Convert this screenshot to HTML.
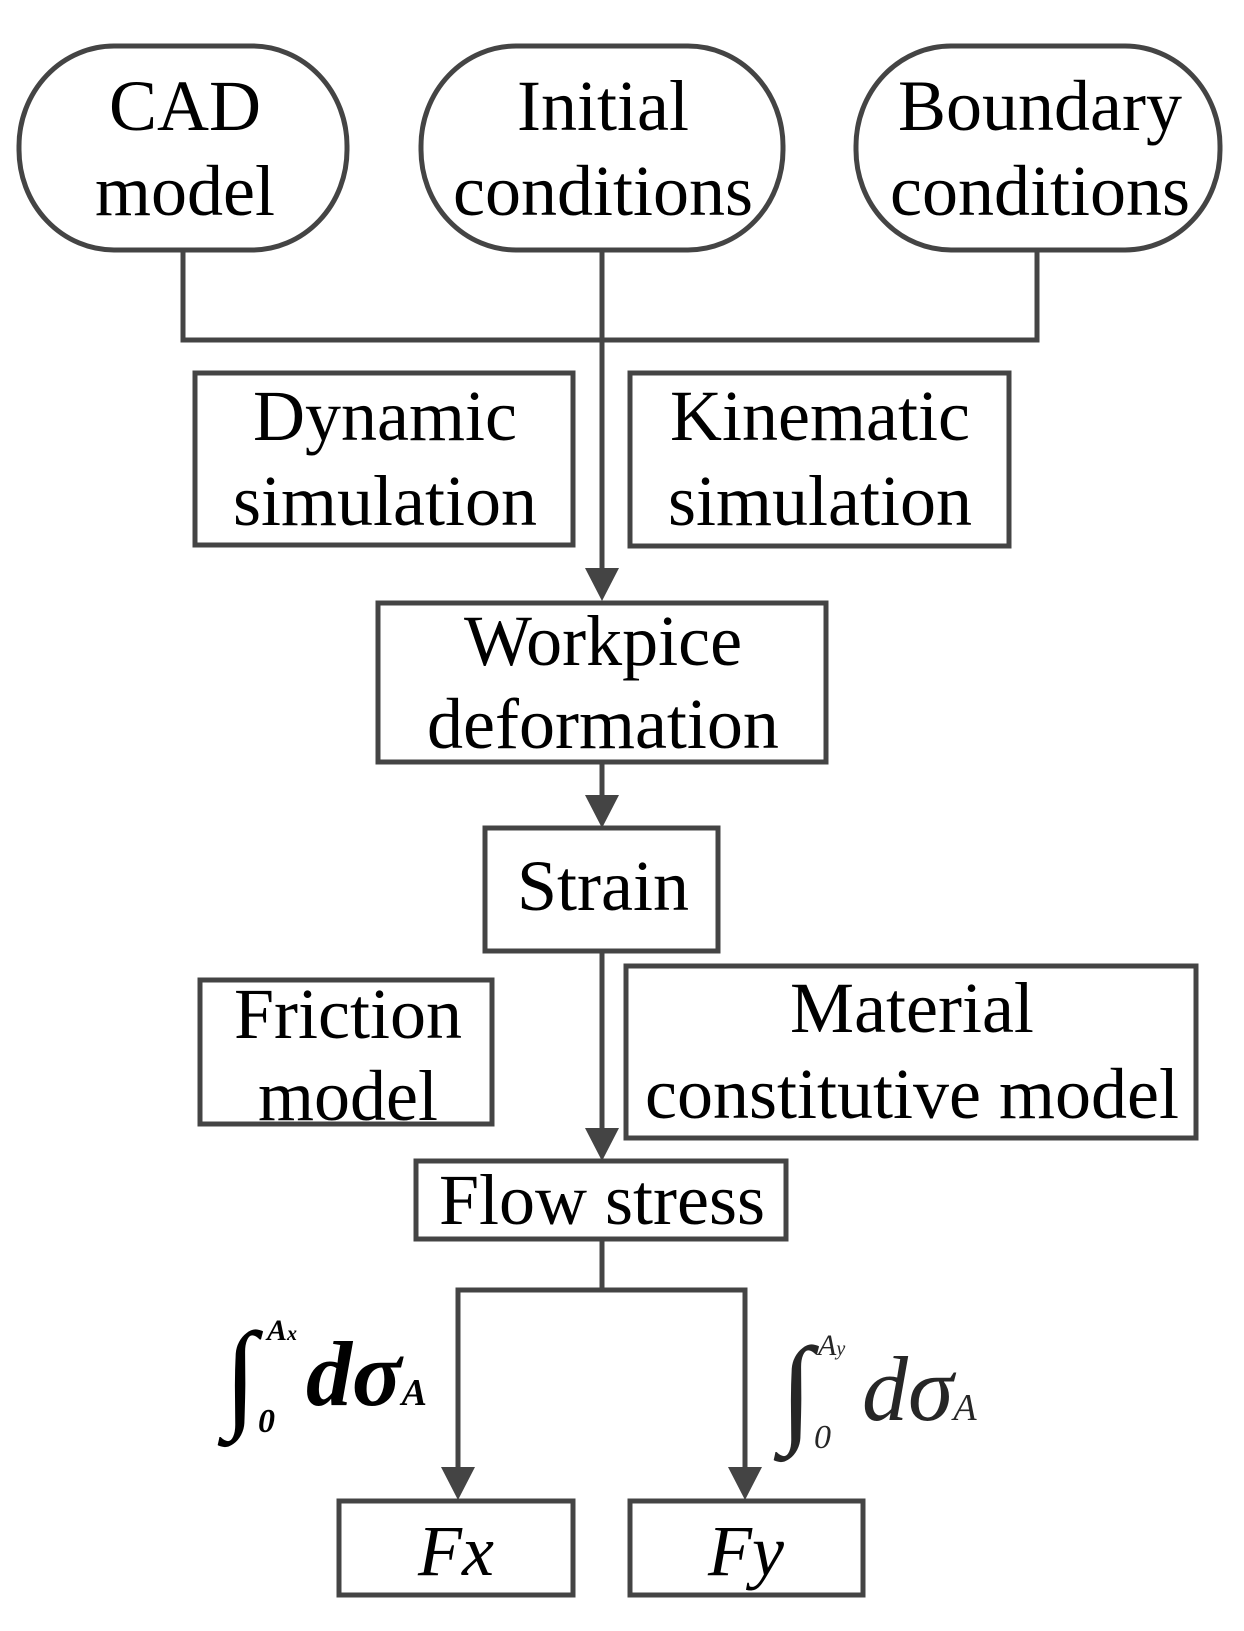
<!DOCTYPE html>
<html><head><meta charset="utf-8"><style>
html,body{margin:0;padding:0;background:#fff}
svg{display:block}
text{font-family:"Liberation Serif",serif;fill:#000}
</style></head><body>
<svg width="1244" height="1631" viewBox="0 0 1244 1631" xmlns="http://www.w3.org/2000/svg">
<g fill="none" stroke="#444" stroke-width="5">
<rect x="19" y="46" width="328" height="204" rx="95" ry="100"/>
<rect x="421" y="46" width="362" height="204" rx="95" ry="100"/>
<rect x="856" y="46" width="364" height="204" rx="95" ry="100"/>
<polyline points="183,250 183,340 1037,340 1037,250"/>
<line x1="602" y1="250" x2="602" y2="580"/>
<rect x="195" y="373" width="378" height="172"/>
<rect x="630" y="373" width="379" height="173"/>
<rect x="378" y="603" width="448" height="159"/>
<line x1="602" y1="762" x2="602" y2="810"/>
<rect x="485" y="828" width="233" height="123"/>
<line x1="602" y1="951" x2="602" y2="1142"/>
<rect x="200" y="980" width="292" height="144"/>
<rect x="626" y="966" width="570" height="172"/>
<rect x="416" y="1161" width="370" height="78"/>
<polyline points="602,1239 602,1290"/>
<polyline points="458,1480 458,1290 745,1290 745,1480"/>
<rect x="339" y="1501" width="234" height="94"/>
<rect x="630" y="1501" width="233" height="94"/>
</g>
<g fill="#444">
<polygon points="585,568 619,568 602,601"/>
<polygon points="585,795 619,795 602,828"/>
<polygon points="585,1128 619,1128 602,1161"/>
<polygon points="441,1467 475,1467 458,1500"/>
<polygon points="728,1467 762,1467 745,1500"/>
</g>
<g font-size="72" text-anchor="middle">
<text x="185" y="130">CAD</text><text x="185" y="215">model</text>
<text x="603" y="130">Initial</text><text x="603" y="215">conditions</text>
<text x="1040" y="130">Boundary</text><text x="1040" y="215">conditions</text>
<text x="385" y="440">Dynamic</text><text x="385" y="525">simulation</text>
<text x="820" y="440">Kinematic</text><text x="820" y="525">simulation</text>
<text x="603" y="665">Workpice</text><text x="603" y="748">deformation</text>
<text x="603" y="910">Strain</text>
<text x="348" y="1038">Friction</text><text x="348" y="1120">model</text>
<text x="912" y="1032">Material</text><text x="912" y="1118">constitutive model</text>
<text x="602" y="1224">Flow stress</text>
<text x="456" y="1575" font-style="italic">Fx</text>
<text x="746" y="1575" font-style="italic">Fy</text>
</g>
<g font-style="italic" font-weight="bold">
<text x="224" y="1415" font-size="120" font-weight="normal">∫</text>
<text x="258" y="1432" font-size="34">0</text>
<text x="267" y="1340" font-size="30">A<tspan font-size="20">x</tspan></text>
<text x="306" y="1405" font-size="92">dσ<tspan font-size="38">A</tspan></text>
</g>
<g font-style="italic" fill-opacity="0.85">
<text x="780" y="1430" font-size="120">∫</text>
<text x="814" y="1448" font-size="34">0</text>
<text x="818" y="1355" font-size="30">A<tspan font-size="20">y</tspan></text>
<text x="862" y="1420" font-size="92">dσ<tspan font-size="38">A</tspan></text>
</g>
</svg>
</body></html>
